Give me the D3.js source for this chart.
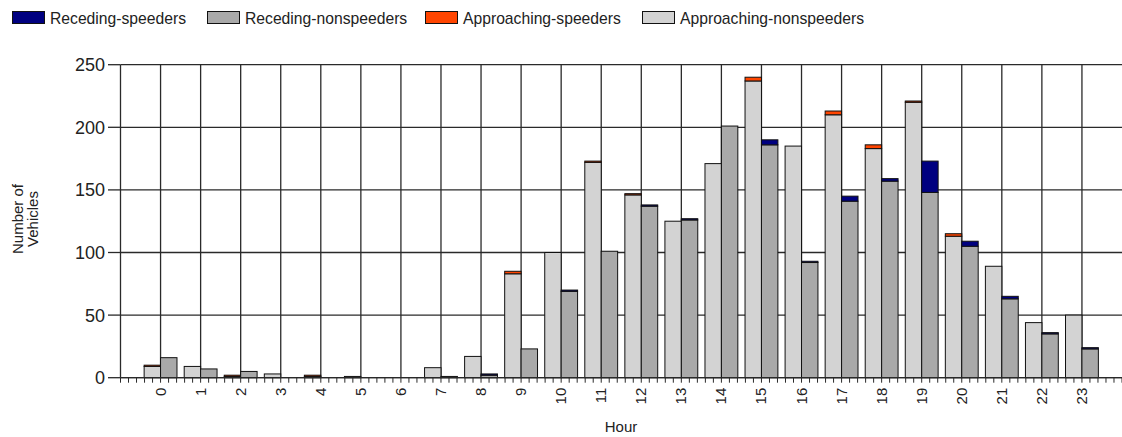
<!DOCTYPE html>
<html><head><meta charset="utf-8">
<script src="https://cdn.jsdelivr.net/npm/d3@7"></script>
<style>
html,body{margin:0;padding:0;background:#fff;}
svg{display:block;font-family:"Liberation Sans",Arial,sans-serif;}
</style></head>
<body><svg id="c" width="1122" height="437"></svg>
<script>
const hours = d3.range(0, 24);
const hourLabels = hours.map(String);
const approachingNonspeeders = [9,9,1,3,1,1,0,8,17,83,100,172,146,125,171,237,185,210,183,220,113,89,44,50];
const approachingSpeeders    = [1,0,1,0,1,0,0,0,0,2,0,1,1,0,0,3,0,3,3,1,2,0,0,0];
const recedingNonspeeders    = [16,7,5,0,0,0,0,1,2,23,69,101,137,126,201,186,92,141,157,148,105,63,35,23];
const recedingSpeeders       = [0,0,0,0,0,0,0,0,1,0,1,0,1,1,0,4,1,4,2,25,4,2,1,1];
const yTicks = [0,50,100,150,200,250];
const legendItems = ["Receding-speeders","Receding-nonspeeders","Approaching-speeders","Approaching-nonspeeders"];
const colors = {"Receding-speeders":"#000080","Receding-nonspeeders":"#a9a9a9","Approaching-speeders":"#ff4500","Approaching-nonspeeders":"#d3d3d3"};

(function(){
const svg = d3.select("#c");
const pLeft = 120.5, pRight = 1122, pTop = 64.7, pBottom = 377.7;
const x = d3.scaleLinear().domain([-1, 24]).range([pLeft, pRight]);
const y = d3.scaleLinear().domain([0, 250]).range([pBottom, pTop]);
const bw = (x(1) - x(0)) * 0.41;
const gridColor = "#2a2a2a";

// gridlines
const g = svg.append("g");
g.selectAll("line.h").data(yTicks).join("line")
  .attr("x1", pLeft).attr("x2", pRight).attr("y1", d => y(d)).attr("y2", d => y(d))
  .attr("stroke", gridColor).attr("stroke-width", 1.3);
g.selectAll("line.v").data(d3.range(-1, 24)).join("line")
  .attr("x1", d => x(d)).attr("x2", d => x(d)).attr("y1", pTop).attr("y2", pBottom)
  .attr("stroke", gridColor).attr("stroke-width", 1.3);

// bars
function drawStack(base, upper, colBase, colTop, side) {
  const rows = hours.map((h, i) => ({h, a: base[i], b: upper[i]}));
  const xpos = d => side < 0 ? x(d.h) - bw : x(d.h);
  svg.append("g").selectAll("rect").data(rows.filter(d => d.a > 0)).join("rect")
    .attr("x", xpos).attr("width", bw)
    .attr("y", d => y(d.a)).attr("height", d => y(0) - y(d.a))
    .attr("fill", colBase).attr("stroke", "#111").attr("stroke-width", 1);
  svg.append("g").selectAll("rect").data(rows.filter(d => d.b > 0)).join("rect")
    .attr("x", xpos).attr("width", bw)
    .attr("y", d => y(d.a + d.b)).attr("height", d => y(d.a) - y(d.a + d.b))
    .attr("fill", colTop).attr("stroke", "#111").attr("stroke-width", 1);
}
drawStack(approachingNonspeeders, approachingSpeeders, colors["Approaching-nonspeeders"], colors["Approaching-speeders"], -1);
drawStack(recedingNonspeeders, recedingSpeeders, colors["Receding-nonspeeders"], colors["Receding-speeders"], 1);

// x axis
const xAxis = svg.append("g").attr("transform", `translate(0,${pBottom})`);
xAxis.append("line").attr("x1", pLeft).attr("x2", pRight).attr("stroke", gridColor).attr("stroke-width", 1.3);
xAxis.selectAll("line.t").data(d3.range(-1, 24.01, 0.2)).join("line")
  .attr("x1", d => x(d)).attr("x2", d => x(d)).attr("y1", 0).attr("y2", 5)
  .attr("stroke", gridColor).attr("stroke-width", 1);
xAxis.selectAll("text").data(hours).join("text")
  .attr("transform", d => `translate(${x(d) + 5},${10}) rotate(-90)`)
  .attr("text-anchor", "end").attr("font-size", 15).attr("fill", "#222")
  .text((d, i) => hourLabels[i]);

// y axis
const yAxis = svg.append("g");
yAxis.selectAll("line").data(yTicks).join("line")
  .attr("x1", 108).attr("x2", pLeft).attr("y1", d => y(d)).attr("y2", d => y(d))
  .attr("stroke", gridColor).attr("stroke-width", 1.3);
yAxis.selectAll("text").data(yTicks).join("text")
  .attr("x", 105).attr("y", d => y(d) + 6.5).attr("text-anchor", "end")
  .attr("font-size", 18).attr("fill", "#222").text(d => d);

// titles
svg.append("text").attr("x", 621).attr("y", 432).attr("text-anchor", "middle")
  .attr("font-size", 15).attr("fill", "#222").text("Hour");
const yt = svg.append("text").attr("transform", "translate(23,219) rotate(-90)")
  .attr("text-anchor", "middle").attr("font-size", 15).attr("fill", "#222");
yt.append("tspan").attr("x", 0).attr("y", 0).text("Number of");
yt.append("tspan").attr("x", 0).attr("y", 15).text("Vehicles");

// legend
const legX = [12, 207, 425, 642];
const leg = svg.append("g");
legendItems.forEach((name, i) => {
  leg.append("rect").attr("x", legX[i] + 0.5).attr("y", 11.5).attr("width", 32).attr("height", 12)
    .attr("fill", colors[name]).attr("stroke", "#111").attr("stroke-width", 1);
  leg.append("text").attr("x", legX[i] + 38).attr("y", 23.5).attr("font-size", 15.7)
    .attr("fill", "#222").text(name);
});
})();
</script></body></html>
